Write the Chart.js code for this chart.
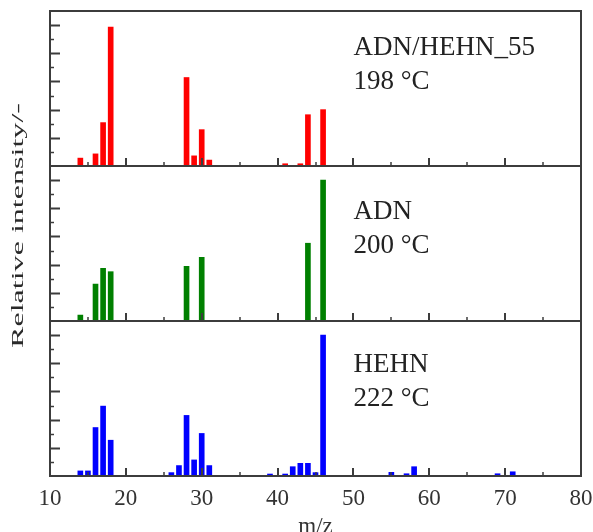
<!DOCTYPE html>
<html>
<head>
<meta charset="utf-8">
<script src="https://cdn.jsdelivr.net/npm/chart.js@4"></script>
<style>
  html, body { margin: 0; padding: 0; background: #fff; }
  #wrap { width: 593px; height: 532px; }
</style>
</head>
<body>
<div id="wrap"><canvas id="chart"></canvas></div>
<script>
// m/z positions and relative intensities
const mzMix = [14, 16, 17, 18, 28, 29, 30, 31, 41, 43, 44, 46];
const intMix = [0.28, 0.43, 1.54, 4.93, 3.14, 0.36, 1.29, 0.21, 0.08, 0.08, 1.82, 2.0];

const mzADN = [14, 16, 17, 18, 28, 30, 44, 46];
const intADN = [0.21, 1.31, 1.87, 1.75, 1.94, 2.26, 2.76, 5.0];

const mzHEHN = [14, 15, 16, 17, 18, 26, 27, 28, 29, 30, 31, 39, 41, 42, 43, 44, 45, 46, 55, 57, 58, 69, 71];
const intHEHN = [0.18, 0.18, 1.72, 2.48, 1.27, 0.12, 0.37, 2.15, 0.57, 1.51, 0.37, 0.07, 0.07, 0.33, 0.45, 0.45, 0.12, 5.0, 0.13, 0.08, 0.33, 0.08, 0.15];

const panelNames = ["ADN/HEHN_55", "ADN", "HEHN"];
const panelTemps = ["198 °C", "200 °C", "222 °C"];
const panelColors = ["#ff0000", "#008000", "#0000ff"];
const panelAxes = ["yTop", "yMid", "yBot"];

const xTicksMin = 10, xTicksMax = 80;
const yMax = 5.5;

const serif = "'Liberation Serif', 'Times New Roman', serif";

function toPoints(xs, ys) {
    return xs.map((m, i) => ({ x: m, y: ys[i] }));
}

function line(ctx, x1, y1, x2, y2) {
    ctx.beginPath();
    ctx.moveTo(x1, y1);
    ctx.lineTo(x2, y2);
    ctx.stroke();
}

// boxes, inward ticks and the panel captions
const panelPlugin = {
    id: "panels",
    afterDatasetsDraw(chart) {
        const ctx = chart.ctx;
        const x = chart.scales.x;
        const capTop = [44, 53, 51];
        ctx.save();
        ctx.strokeStyle = "#3c3c3c";
        panelAxes.forEach((id, i) => {
            const y = chart.scales[id];

            for (let k = 1; k * 0.5 < yMax; k++) {
                const py = Math.round(y.getPixelForValue(k * 0.5)) + 0.5;
                ctx.lineWidth = k % 2 === 0 ? 2 : 1.5;
                line(ctx, x.left, py, x.left + (k % 2 === 0 ? 10 : 4), py);
            }
            for (let m = xTicksMin + 5; m < xTicksMax; m += 5) {
                const px = Math.round(x.getPixelForValue(m));
                ctx.lineWidth = m % 10 === 0 ? 2 : 1.5;
                line(ctx, px, y.bottom, px, y.bottom - (m % 10 === 0 ? 8 : 4));
            }

            ctx.lineWidth = 2;
            ctx.strokeRect(x.left, y.top, x.right - x.left, y.bottom - y.top);

            ctx.fillStyle = "#222";
            ctx.font = "27px " + serif;
            ctx.textAlign = "left";
            ctx.textBaseline = "alphabetic";
            const tx = x.getPixelForValue(50);
            ctx.fillText(panelNames[i], tx, y.top + capTop[i]);
            ctx.fillText(panelTemps[i], tx, y.top + capTop[i] + 34);
        });
        ctx.restore();
    }
};

// shared y caption, drawn stretched along its length like the original
const yTitlePlugin = {
    id: "yTitle",
    afterDraw(chart) {
        const ctx = chart.ctx;
        const area = chart.chartArea;
        const text = "Relative intensity/-";
        ctx.save();
        ctx.fillStyle = "#2a2a2a";
        ctx.font = "17px " + serif;
        const w = ctx.measureText(text).width;
        ctx.translate(19, (area.top + area.bottom) / 2 - 18);
        ctx.rotate(-Math.PI / 2);
        ctx.scale(245 / w, 1);
        ctx.textAlign = "center";
        ctx.textBaseline = "middle";
        ctx.fillText(text, 0, 0);
        ctx.restore();
    }
};

function panelScale(weight) {
    return {
        type: "linear",
        position: "left",
        stack: "ms",
        stackWeight: 1,
        weight: weight,
        min: 0,
        max: yMax,
        ticks: { display: false },
        grid: { display: false, drawTicks: false },
        border: { display: false },
        afterFit(s) { s.width = 0; }
    };
}

const datasets = [
    toPoints(mzMix, intMix),
    toPoints(mzADN, intADN),
    toPoints(mzHEHN, intHEHN)
].map((pts, i) => ({
    label: panelNames[i],
    data: pts,
    yAxisID: panelAxes[i],
    backgroundColor: panelColors[i],
    borderWidth: 0,
    barThickness: 5,
    grouped: false
}));

const chart = new Chart(document.getElementById("chart"), {
    type: "bar",
    data: { datasets },
    options: {
        responsive: true,
        maintainAspectRatio: false,
        animation: false,
        devicePixelRatio: 1,
        layout: { padding: { left: 50, right: 12, top: 11, bottom: 0 } },
        plugins: {
            legend: { display: false },
            tooltip: { enabled: false }
        },
        scales: {
            x: {
                type: "linear",
                min: xTicksMin,
                max: xTicksMax,
                offset: false,
                grid: { display: false, drawTicks: false },
                border: { display: false },
                ticks: {
                    stepSize: 10,
                    maxRotation: 0,
                    autoSkip: false,
                    padding: 9,
                    color: "#333",
                    font: { family: serif, size: 23 }
                },
                title: {
                    display: true,
                    text: "m/z",
                    color: "#333",
                    padding: { top: 0, bottom: -9 },
                    font: { family: serif, size: 23 }
                },
                afterFit(s) {
                    s.height = 56;
                    s.paddingLeft = 0;
                    s.paddingRight = 0;
                }
            },
            yBot: panelScale(1),
            yMid: panelScale(2),
            yTop: panelScale(3)
        }
    },
    plugins: [panelPlugin, yTitlePlugin]
});
</script>
</body>
</html>
